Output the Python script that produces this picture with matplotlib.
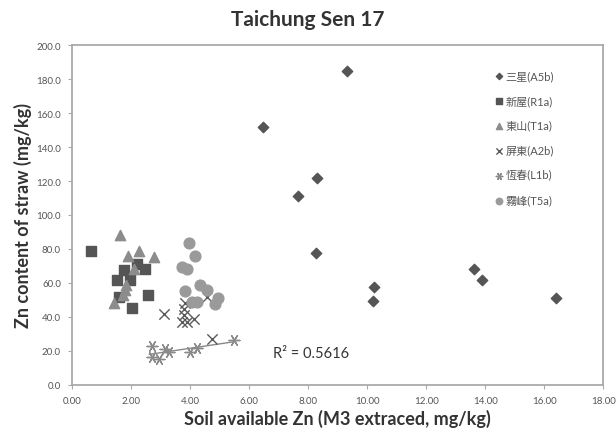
import numpy as np
import matplotlib
matplotlib.use("Agg")
import matplotlib.pyplot as plt

# ==================== data ====================
a5b_x = [9.32, 6.46, 8.30, 7.65, 8.27, 10.25, 10.20, 13.64, 13.90, 16.40]
a5b_y = [185.0, 152.0, 121.5, 111.0, 77.5, 57.5, 49.5, 68.0, 62.0, 51.0]

r1a_x = [0.65, 1.77, 2.21, 2.48, 1.53, 1.97, 1.60, 2.59, 2.04]
r1a_y = [79.0, 67.5, 71.0, 68.5, 62.0, 62.0, 51.5, 53.0, 45.0]

t1a_x = [1.63, 1.90, 2.28, 2.79, 2.11, 1.84, 1.80, 1.73, 1.43]
t1a_y = [88.0, 76.0, 79.0, 75.0, 68.0, 59.0, 56.0, 53.0, 48.0]

a2b_x = [3.10, 3.84, 3.78, 3.74, 3.91, 4.12, 4.56, 4.76, 3.81]
a2b_y = [42.0, 48.0, 41.0, 37.0, 37.0, 38.5, 52.0, 27.0, 44.5]

l1b_x = [2.72, 2.72, 2.96, 3.16, 3.27, 4.01, 4.25, 5.48]
l1b_y = [23.0, 16.5, 15.5, 21.0, 19.5, 19.5, 22.0, 26.5]

t5a_x = [3.95, 4.18, 3.74, 3.91, 3.84, 4.35, 4.59, 4.93, 4.83, 4.08, 4.25]
t5a_y = [83.5, 76.0, 69.5, 68.0, 55.5, 58.5, 56.0, 51.0, 47.5, 48.5, 48.5]

labels = ["三星(A5b)", "新屋(R1a)", "東山(T1a)", "屏東(A2b)", "恆春(L1b)", "霧峰(T5a)"]
r2_text = "R² = 0.5616"

x_ticks = np.arange(0, 18.01, 2)
y_ticks = np.arange(0, 200.1, 20)

# ==================== figure ====================
plt.rcParams['font.family'] = ['Lato', 'Noto Sans CJK TC', 'DejaVu Sans']

fig = plt.figure(figsize=(6.16, 4.39), dpi=100)
ax = fig.add_axes([0.117, 0.121, 0.862, 0.774])

ax.scatter(a5b_x, a5b_y, marker='D', s=28, color='#555555', label=labels[0], zorder=3)
ax.scatter(r1a_x, r1a_y, marker='s', s=60, color='#555555', label=labels[1], zorder=3)
ax.scatter(t1a_x, t1a_y, marker='^', s=55, color='#8c8c8c', label=labels[2], zorder=3)
ax.scatter(a2b_x, a2b_y, marker='x', s=55, color='#5a5a5a', linewidths=1.0,
           label=labels[3], zorder=3)
ax.scatter(l1b_x, l1b_y, marker=(6, 2, 90), s=60, color='#8a8a8a', linewidths=1.0,
           label=labels[4], zorder=3)
ax.scatter(t5a_x, t5a_y, marker='o', s=60, color='#9a9a9a', label=labels[5], zorder=3)

# 恆春 trend line
coef = np.polyfit(l1b_x, l1b_y, 1)
xs = np.array([min(l1b_x) - 0.1, max(l1b_x)])
ax.plot(xs, np.polyval(coef, xs), color='#888888', lw=1.0, zorder=2)
ax.text(6.8, 18.5, r2_text, fontsize=10.5, color='#333333', ha='left', va='center')

ax.set_xlim(0, 18)
ax.set_ylim(0, 200)
ax.set_xticks(x_ticks)
ax.set_yticks(y_ticks)
ax.set_xticklabels([f"{v:.2f}" for v in x_ticks], fontsize=7, color='#555555')
ax.set_yticklabels([f"{v:.1f}" for v in y_ticks], fontsize=7, color='#555555')
ax.tick_params(length=3, width=0.8, color='#aaaaaa', pad=5)
for sp in ax.spines.values():
    sp.set_color('#aaaaaa')
    sp.set_linewidth(1.3)

ax.set_xlabel("Soil available Zn (M3 extraced, mg/kg)", fontsize=13,
              fontweight='bold', color='#333333', labelpad=3)
ax.set_ylabel("Zn content of straw (mg/kg)", fontsize=13,
              fontweight='bold', color='#333333', labelpad=3)
fig.text(0.5, 0.955, "Taichung Sen 17", ha='center', va='center',
         fontsize=15, fontweight='bold', color='#333333')

leg = ax.legend(loc='upper left', bbox_to_anchor=(0.785, 0.94), frameon=False,
                fontsize=8, labelspacing=1.25, handletextpad=0.1,
                markerscale=0.6, handlelength=1.0, borderaxespad=0)
for t in leg.get_texts():
    t.set_color('#555555')

fig.savefig("out.png", dpi=100)
